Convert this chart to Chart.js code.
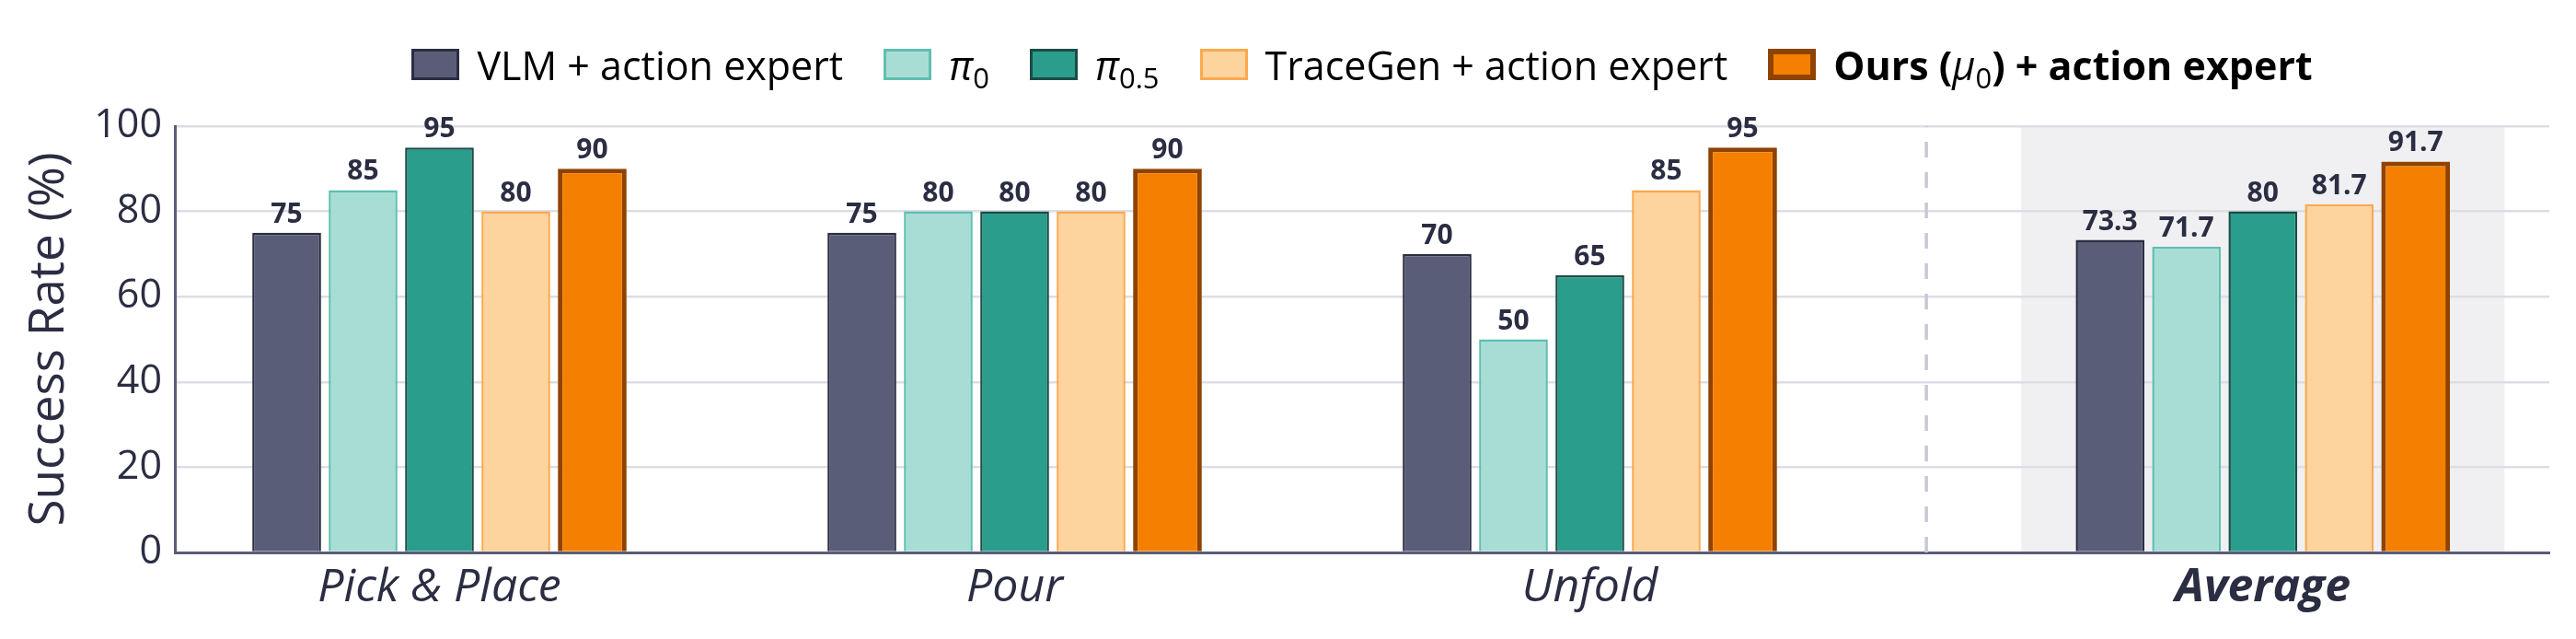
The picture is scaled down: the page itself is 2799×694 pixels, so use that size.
<!DOCTYPE html>
<html>
<head>
<meta charset="utf-8">
<title>Success rate</title>
<script src="https://cdn.jsdelivr.net/npm/chart.js@4.4.0/dist/chart.umd.min.js"></script>
<style>
  body { margin: 0; background: #fff; }
  #wrap { position: relative; width: 2799px; height: 694px; }
  #chart { position: absolute; left: 0; top: 0; }
  #legend {
    position: absolute; left: 190px; width: 2580px; top: 44px; height: 52px;
    display: flex; justify-content: center; align-items: center;
    font-family: 'Open Sans'; font-size: 43px; color: #000; white-space: nowrap;
  }
  .item { display: flex; align-items: center; margin: 0 22px; }
  .box { width: 52px; height: 34px; box-sizing: border-box; border: 3px solid; margin-right: 19px; }
  .item i { font-weight: normal; }
  .item sub { font-size: 0.72em; vertical-align: -0.3em; font-weight: normal; line-height: 0; }
</style>
</head>
<body>
<div id="wrap">
  <canvas id="chart" width="2799" height="694"></canvas>
  <div id="legend"></div>
</div>
<script>
const categories = ['Pick & Place', 'Pour', 'Unfold', 'Average'];
const seriesLabels = ['VLM + action expert', 'π0', 'π0.5', 'TraceGen + action expert', 'Ours (μ0) + action expert'];
const vlmValues = [75, 75, 70, 73.3];
const pi0Values = [85, 80, 50, 71.7];
const pi05Values = [95, 80, 65, 80];
const traceGenValues = [80, 80, 85, 81.7];
const oursValues = [90, 90, 95, 91.7];
const yTicks = [0, 20, 40, 60, 80, 100];

const fillColors = ['#5a5d78', '#a8ddd6', '#2a9d8c', '#fdd39e', '#f57f00'];
const edgeColors = ['#2b2d42', '#5fbfb1', '#1b4d45', '#fba94c', '#8f4300'];
const edgeWidths = [2.5, 2.5, 2.5, 2.5, 5];
const navy = '#2b2d42';

// the Average group sits a bit further right, behind a dashed separator
const avgSlot = 3.17;
const slotOf = i => (i < 3 ? i : avgSlot);

const allValues = [vlmValues, pi0Values, pi05Values, traceGenValues, oursValues];

// html legend (needs subscripts)
function formatLabel(label, bold) {
    const html = label.replace(/([πμ])([0-9.]+)/g, '<i>$1</i><sub>$2</sub>');
    return bold ? '<b>' + html + '</b>' : html;
}
const legendEl = document.getElementById('legend');
seriesLabels.forEach((label, i) => {
    const item = document.createElement('div');
    item.className = 'item';
    const box = document.createElement('span');
    box.className = 'box';
    box.style.background = fillColors[i];
    box.style.borderColor = edgeColors[i];
    if (i === 4) box.style.borderWidth = '6px';
    const text = document.createElement('span');
    text.innerHTML = formatLabel(label, i === 4);
    item.appendChild(box);
    item.appendChild(text);
    legendEl.appendChild(item);
});

const avgBackground = {
    id: 'avgBackground',
    beforeDraw(chart) {
        const { ctx, chartArea } = chart;
        const x = chart.scales.x;
        const left = x.getPixelForValue(avgSlot - 0.42);
        const right = x.getPixelForValue(avgSlot + 0.42);
        ctx.save();
        ctx.fillStyle = '#f0f0f3';
        ctx.fillRect(left, chartArea.top, right - left, chartArea.bottom - chartArea.top);
        ctx.restore();
    },
    beforeDatasetsDraw(chart) {
        const { ctx, chartArea } = chart;
        const xs = chart.scales.x.getPixelForValue((2 + avgSlot) / 2);
        ctx.save();
        ctx.strokeStyle = '#c8c8d6';
        ctx.lineWidth = 3.5;
        ctx.setLineDash([17, 16]);
        ctx.beginPath();
        ctx.moveTo(xs, chartArea.bottom);
        ctx.lineTo(xs, chartArea.top);
        ctx.stroke();
        ctx.restore();
    }
};

const valueLabels = {
    id: 'valueLabels',
    afterDatasetsDraw(chart) {
        const ctx = chart.ctx;
        ctx.save();
        ctx.font = 'bold 30px "Open Sans"';
        ctx.fillStyle = navy;
        ctx.textAlign = 'center';
        ctx.textBaseline = 'alphabetic';
        chart.data.datasets.forEach((ds, di) => {
            chart.getDatasetMeta(di).data.forEach((bar, i) => {
                ctx.fillText(String(ds.data[i].y), bar.x, bar.y - 11);
            });
        });
        ctx.restore();
    }
};

const ctx = document.getElementById('chart').getContext('2d');
new Chart(ctx, {
    type: 'bar',
    data: {
        datasets: allValues.map((values, s) => ({
            label: seriesLabels[s],
            data: values.map((v, i) => ({ x: slotOf(i), y: v })),
            backgroundColor: fillColors[s],
            borderColor: edgeColors[s],
            borderWidth: edgeWidths[s],
            borderSkipped: 'start'
        }))
    },
    options: {
        responsive: false,
        animation: false,
        devicePixelRatio: 1,
        layout: { padding: { left: 0, top: 137, right: 29, bottom: 0 } },
        categoryPercentage: 0.664,
        barPercentage: 0.9,
        plugins: {
            legend: { display: false },
            tooltip: { enabled: false }
        },
        scales: {
            x: {
                type: 'linear',
                min: -0.46,
                max: 3.668,
                offset: false,
                z: 1,
                grid: { display: false, drawTicks: false, offset: false },
                border: { display: true, color: '#5a5d78', width: 3 },
                afterBuildTicks: scale => {
                    scale.ticks = categories.map((c, i) => ({ value: slotOf(i) }));
                },
                afterFit: scale => { scale.height = 94; },
                ticks: {
                    autoSkip: false,
                    maxRotation: 0,
                    minRotation: 0,
                    padding: 9,
                    color: navy,
                    callback: (value, index) => categories[index],
                    font: c => ({
                        family: 'Open Sans',
                        size: 50,
                        style: 'italic',
                        weight: c.index === 3 ? 'bold' : 'normal'
                    })
                }
            },
            y: {
                min: 0,
                max: 100,
                afterBuildTicks: scale => {
                    scale.ticks = yTicks.map(v => ({ value: v }));
                },
                afterFit: scale => { scale.width = 190; },
                grid: { color: '#dddde6', lineWidth: 2.5, drawTicks: false },
                border: { display: true, color: '#5a5d78', width: 3 },
                ticks: {
                    padding: 14,
                    color: navy,
                    font: { family: 'Open Sans', size: 43 }
                },
                title: {
                    display: true,
                    text: 'Success Rate (%)',
                    color: navy,
                    font: { family: 'Open Sans', size: 53 },
                    padding: { top: 22, bottom: 0 }
                }
            }
        }
    },
    plugins: [avgBackground, valueLabels]
});
</script>
</body>
</html>
